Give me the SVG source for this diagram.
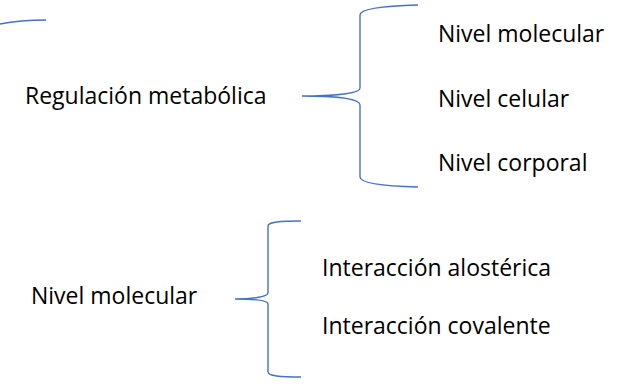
<svg xmlns="http://www.w3.org/2000/svg" width="629" height="390" viewBox="0 0 629 390">
<style>
  .t { font-family: "Open Sans", "Noto Sans", "Liberation Sans", sans-serif; font-size: 23px; fill: #000; }
  .b { fill: none; stroke: #4472C4; stroke-width: 1.4; }
</style>
<rect width="629" height="390" fill="#fff"/>
<g id="connectors">
  <path class="b" d="M0,24 C15,21 30,20 46,20"/>
  <path class="b" d="M418,5 C380,6 360,9 360,15 L360,88 C360,94 330,96 302,96 C330,96 360,98 360,105 L360,177 C360,183 380,186 418,187"/>
  <path class="b" d="M301,221 C280,221 268,222 268,226 L268,293 C268,297 250,299 235,299 C250,299 268,300 268,304 L268,372 C268,376 280,377 301,377"/>
</g>
<g id="n-regulacion"><text class="t" x="25" y="104">Regulación metabólica</text></g>
<g id="n-molecular-r"><text class="t" x="438" y="42">Nivel molecular</text></g>
<g id="n-celular"><text class="t" x="438" y="107">Nivel celular</text></g>
<g id="n-corporal"><text class="t" x="438" y="171">Nivel corporal</text></g>
<g id="n-molecular"><text class="t" x="31" y="304">Nivel molecular</text></g>
<g id="n-alosterica"><text class="t" x="322" y="276">Interacción alostérica</text></g>
<g id="n-covalente"><text class="t" x="322" y="334">Interacción covalente</text></g>
</svg>
